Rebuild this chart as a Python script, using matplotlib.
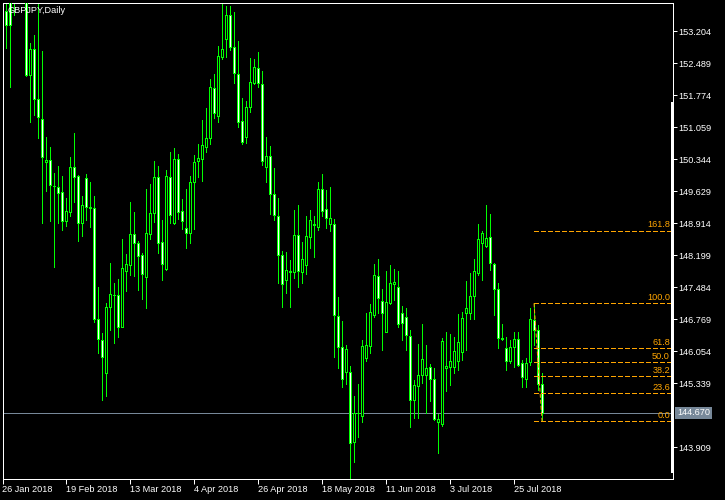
import numpy as np
import pandas as pd
import matplotlib
matplotlib.use('Agg')
import matplotlib.pyplot as plt
from matplotlib.patches import Rectangle

plt.rcParams['font.family'] = ['Liberation Sans', 'DejaVu Sans']
plt.rcParams['lines.scale_dashes'] = False

# GBPJPY daily candles, 26 Jan 2018 - 3 Aug 2018
dates = pd.bdate_range('2018-01-26', '2018-08-03')

opens = [154.45, 153.64, 153.95, 153.95, 154.90, 156.10, 155.50, 152.22, 152.80, 151.68,
         151.23, 150.28, 150.32, 149.75, 149.71, 149.60, 148.95, 149.17, 150.16, 149.96,
         148.91, 149.91, 149.28, 149.24, 146.76, 146.30, 145.56, 147.03, 147.30, 147.31,
         146.60, 147.85, 147.98, 148.67, 148.46, 148.19, 147.71, 148.67, 149.13, 149.94,
         148.48, 147.88, 149.94, 148.91, 150.34, 149.18, 148.80, 148.68, 149.82, 150.31,
         150.34, 150.61, 150.81, 151.92, 151.31, 152.63, 153.02, 153.56, 152.84, 152.24,
         151.20, 150.84, 151.50, 152.04, 152.37, 152.01, 150.16, 150.41, 149.56, 149.07,
         148.19, 147.63, 147.83, 147.83, 148.65, 147.83, 147.97, 148.61, 148.87, 148.82,
         149.67, 149.22, 148.89, 148.89, 146.84, 146.14, 145.59, 145.58, 144.03, 144.66,
         144.60, 145.89, 146.17, 146.86, 147.73, 147.17, 146.49, 147.12, 147.56, 147.49,
         146.91, 146.82, 146.39, 144.96, 145.28, 145.52, 145.52, 145.70, 145.44, 144.46,
         144.42, 145.68, 145.70, 145.70, 145.84, 146.04, 146.91, 146.90, 147.28, 147.80,
         148.47, 148.39, 148.60, 148.00, 147.43, 146.32, 146.12, 145.82, 146.14, 146.32,
         145.78, 145.44, 145.81, 146.75, 146.52, 145.32]
highs = [154.80, 154.00, 154.10, 155.20, 156.50, 156.60, 155.70, 152.94, 153.12, 153.95,
         152.76, 150.84, 150.62, 150.04, 150.19, 149.96, 149.47, 150.40, 150.92, 149.99,
         149.52, 150.01, 149.82, 149.52, 147.48, 146.46, 147.12, 148.01, 147.57, 147.66,
         148.55, 148.22, 149.38, 149.16, 148.52, 148.25, 149.67, 149.79, 150.30, 150.19,
         148.98, 150.10, 150.50, 150.58, 150.46, 149.44, 149.67, 149.96, 150.43, 150.67,
         151.22, 151.48, 152.13, 152.24, 152.87, 153.90, 153.76, 153.76, 153.63, 152.97,
         151.70, 151.65, 152.59, 152.57, 152.74, 152.30, 150.84, 150.64, 150.14, 149.47,
         148.30, 148.27, 148.09, 149.21, 149.32, 148.50, 149.07, 149.21, 149.07, 149.84,
         150.01, 149.65, 149.71, 149.00, 147.27, 146.73, 146.19, 145.72, 145.05, 145.32,
         146.30, 146.90, 147.10, 148.00, 148.10, 147.43, 147.85, 147.98, 147.88, 147.85,
         147.06, 147.01, 146.52, 145.41, 146.21, 146.66, 146.19, 145.76, 145.67, 144.65,
         146.34, 146.49, 146.43, 146.37, 146.88, 146.93, 147.62, 147.79, 148.11, 148.89,
         148.74, 149.32, 149.12, 148.01, 147.58, 146.66, 146.37, 146.30, 146.49, 146.49,
         145.85, 145.89, 147.02, 147.12, 146.64, 145.56]
lows = [153.75, 152.82, 151.96, 153.56, 154.60, 155.20, 152.20, 151.17, 151.33, 150.81,
        148.91, 149.64, 148.97, 147.94, 148.91, 148.76, 148.85, 149.06, 149.39, 148.52,
        148.62, 148.98, 148.83, 146.71, 146.00, 144.96, 145.05, 146.52, 146.23, 146.36,
        146.58, 147.40, 147.75, 147.73, 147.42, 147.22, 147.02, 148.55, 148.94, 148.25,
        147.64, 147.86, 148.92, 148.89, 149.01, 148.79, 148.36, 148.47, 148.79, 149.95,
        149.85, 150.49, 150.68, 151.27, 151.16, 152.57, 152.63, 152.78, 152.05, 151.07,
        150.68, 150.71, 151.40, 152.02, 151.96, 150.21, 149.82, 149.12, 148.98, 147.58,
        147.04, 147.34, 147.04, 147.68, 147.48, 147.57, 147.78, 148.35, 148.16, 148.76,
        149.07, 148.80, 148.74, 145.93, 145.67, 145.26, 145.32, 143.21, 143.58, 144.13,
        144.47, 145.82, 146.02, 146.82, 146.90, 146.08, 146.47, 147.10, 147.19, 146.60,
        146.30, 146.08, 144.36, 144.55, 144.55, 145.33, 144.66, 144.94, 144.51, 143.77,
        144.38, 145.17, 145.29, 145.56, 145.63, 145.85, 146.08, 146.78, 146.78, 147.75,
        147.63, 148.37, 147.86, 146.86, 146.12, 146.30, 145.63, 145.78, 145.70, 145.73,
        145.26, 145.26, 145.74, 146.19, 145.18, 144.49]
closes = [153.90, 153.34, 153.34, 154.90, 156.10, 155.50, 152.22, 152.80, 151.68, 151.28,
          150.40, 150.32, 149.76, 149.73, 149.59, 148.97, 149.18, 150.16, 149.95, 148.91,
          149.31, 149.28, 149.26, 146.76, 146.32, 145.93, 147.03, 147.33, 147.31, 146.60,
          147.92, 147.99, 148.67, 148.46, 148.18, 147.78, 148.68, 149.13, 149.94, 148.47,
          147.99, 149.96, 149.09, 150.34, 149.17, 148.95, 148.68, 149.82, 150.28, 150.36,
          150.65, 150.81, 151.95, 151.37, 152.65, 152.80, 153.56, 152.84, 152.26, 151.18,
          150.73, 151.50, 152.06, 152.39, 152.05, 150.31, 150.41, 149.56, 149.09, 148.19,
          147.55, 147.86, 147.85, 148.65, 147.84, 148.10, 148.62, 148.98, 148.89, 149.67,
          149.18, 149.02, 149.02, 146.85, 146.14, 145.42, 146.09, 143.99, 144.66, 144.68,
          146.17, 146.19, 146.93, 147.75, 147.23, 146.91, 147.16, 147.57, 147.59, 146.65,
          146.69, 146.41, 144.96, 145.29, 145.52, 145.87, 145.67, 145.44, 144.54, 144.54,
          146.28, 145.72, 145.84, 146.06, 146.26, 146.79, 147.01, 147.28, 147.84, 148.55,
          148.68, 148.57, 148.01, 147.43, 146.34, 146.34, 145.82, 146.14, 146.32, 145.74,
          145.47, 145.79, 146.76, 146.52, 145.32, 144.67]

price_ticks = [153.204, 152.489, 151.774, 151.059, 150.344, 149.629, 148.914,
               148.199, 147.484, 146.769, 146.054, 145.339, 143.909]
bid = 144.670

# Fibonacci retracement anchors (swing high / swing low)
fib_start = 133
fib_high = 147.12
fib_low = 144.49
fib_levels = [0.0, 23.6, 38.2, 50.0, 61.8, 100.0, 161.8]

green = '#00ff00'
orange = '#ffa500'
px = 0.72  # one pixel in points
fs = 6.6

fig = plt.figure(figsize=(7.25, 5), dpi=100, facecolor='black')
ax = fig.add_axes([2.5 / 725, 20.7 / 500, 670.2 / 725, 476.8 / 500])
ax.set_facecolor('black')

x = np.arange(len(opens))

# current price line
ax.axhline(bid, color='#778899', lw=px, zorder=1, antialiased=False)

# candles
ax.vlines(x, lows, highs, color=green, lw=px, zorder=2, antialiased=False)
for k in range(len(opens)):
    o, c = opens[k], closes[k]
    fill = 'white' if c < o else 'black'
    ax.add_patch(Rectangle((k - 0.25, min(o, c)), 0.5, max(abs(c - o), 0.005),
                           facecolor=fill, edgecolor=green, lw=px, zorder=3,
                           antialiased=False))

# fibonacci
fib_end = 167.0
for lvl in fib_levels:
    p = fib_low + (fib_high - fib_low) * lvl / 100.0
    ax.hlines(p, fib_start, fib_end, colors=orange, lw=px,
              linestyles=[(0, (2.9, 1.45))], zorder=4, antialiased=False)
    ax.annotate(f'{lvl:.1f}', (fib_end, p), xytext=(0, 1), textcoords='offset points',
                ha='right', va='bottom', color=orange, fontsize=fs, zorder=5)
ax.plot([fib_start, fib_start + 2], [fib_high, fib_low], color=orange, lw=px,
        dashes=(2.9, 1.45), zorder=4)

ax.set_xlim(0.125, 167.7)
ax.set_ylim(143.188, 153.841)

# axes
for s in ax.spines.values():
    s.set_color('white')
    s.set_linewidth(px)

ax.yaxis.tick_right()
ax.set_yticks(price_ticks)
ax.set_yticklabels([f'{t:.3f}' for t in price_ticks])
ax.tick_params(axis='y', colors='white', length=2.9, width=px, pad=1.2,
               labelsize=fs, direction='out')

xt = x[::16]
ax.set_xticks(xt)
ax.set_xticklabels([f'{d.day} {d:%b %Y}' for d in dates[xt]])
for lab in ax.get_xticklabels():
    lab.set_ha('left')
ax.tick_params(axis='x', colors='white', length=3.6, width=px, pad=0.8,
               labelsize=fs, direction='out')

ax.annotate(f'{bid:.3f}', xy=(1, bid), xycoords=('axes fraction', 'data'),
            xytext=(3, 0), textcoords='offset points', ha='left', va='center',
            fontsize=fs, color='white', annotation_clip=False,
            bbox=dict(boxstyle='square,pad=0.2', fc='#778899', ec='none'))

# scroll marker on the price scale
fig.add_artist(Rectangle((670.7 / 725, (500 - 473.3) / 500), 2.7 / 725, (473.3 - 101.7) / 500,
                         transform=fig.transFigure, fc='white', ec='none', zorder=10))

fig.text(7.3 / 725, (500 - 13.4) / 500, 'GBPJPY,Daily', color='white', fontsize=fs,
         ha='left', va='baseline')

fig.savefig('out.png', dpi=100, facecolor='black')
